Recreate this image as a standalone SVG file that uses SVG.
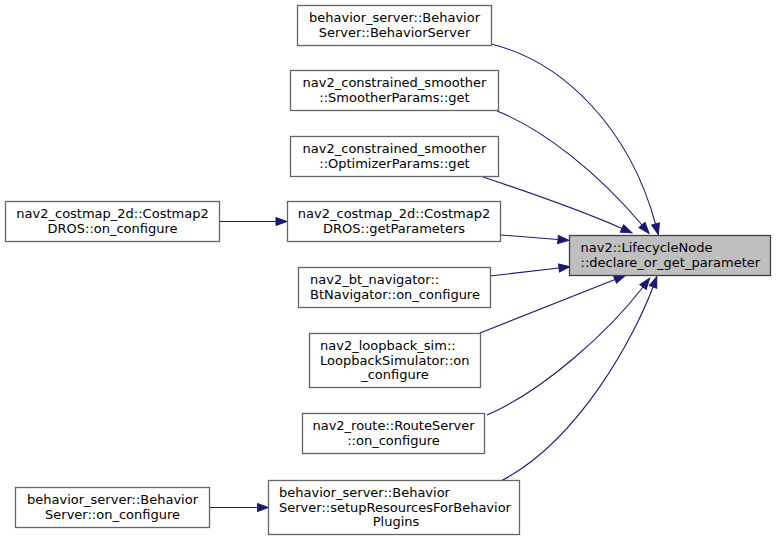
<svg xmlns="http://www.w3.org/2000/svg" width="776" height="541" viewBox="0 0 776 541">
<style>
.n rect{fill:#ffffff;stroke:#666666;stroke-width:1.3}
.t rect{fill:#bfbfbf;stroke:#404040;stroke-width:1.3}
text{font-family:"DejaVu Sans","Liberation Sans",sans-serif;font-size:13px;fill:#000000}
.c{text-anchor:middle}
.e path{fill:none;stroke:#191970;stroke-width:1.1}
</style>
<defs>
<marker id="ah" markerWidth="14" markerHeight="12" refX="0" refY="4.5" orient="auto" markerUnits="userSpaceOnUse" overflow="visible">
<path d="M0,0.5 L11,4.5 L0,8.5 z" fill="#191970" stroke="#191970" stroke-width="1"/>
</marker>
</defs>
<rect width="776" height="541" fill="#ffffff"/>
<g class="e" id="edges">
<path d="M491,44 C565,62 630,130 655.5,224" marker-end="url(#ah)"/>
<path d="M497,111 C545,130 600,175 642,225" marker-end="url(#ah)"/>
<path d="M483,177 C525,191 580,210 622,228.5" marker-end="url(#ah)"/>
<path d="M501,235 L558,239.5" marker-end="url(#ah)"/>
<path d="M220,221.5 L276,221.5" marker-end="url(#ah)"/>
<path d="M490,276 L559,268" marker-end="url(#ah)"/>
<path d="M480,333 L615,279.5" marker-end="url(#ah)"/>
<path d="M487,415 C545,390 610,330 643,287" marker-end="url(#ah)"/>
<path d="M501,481 C580,440 635,335 653,287" marker-end="url(#ah)"/>
<path d="M209.5,507.5 L257.5,507.5" marker-end="url(#ah)"/>
</g>
<g id="node_target" class="t">
<rect x="569.5" y="235.5" width="201" height="40"/>
<text x="580.5" y="252">nav2::LifecycleNode</text>
<text x="580.5" y="266.5">::declare_or_get_parameter</text>
</g>
<g id="node_bs_ctor" class="n">
<rect x="297.5" y="5.5" width="194" height="40"/>
<text class="c" x="394.5" y="22">behavior_server::Behavior</text>
<text class="c" x="394.5" y="36.5">Server::BehaviorServer</text>
</g>
<g id="node_smoother" class="n">
<rect x="290.5" y="70.5" width="208" height="40"/>
<text class="c" x="394.5" y="87">nav2_constrained_smoother</text>
<text class="c" x="394.5" y="101.5">::SmootherParams::get</text>
</g>
<g id="node_optimizer" class="n">
<rect x="290.5" y="136.5" width="208" height="40"/>
<text class="c" x="394.5" y="153">nav2_constrained_smoother</text>
<text class="c" x="394.5" y="167.5">::OptimizerParams::get</text>
</g>
<g id="node_getparams" class="n">
<rect x="287.5" y="201.5" width="213" height="40"/>
<text class="c" x="394" y="218">nav2_costmap_2d::Costmap2</text>
<text class="c" x="394" y="232.5">DROS::getParameters</text>
</g>
<g id="node_costmap_conf" class="n">
<rect x="5.5" y="201.5" width="214" height="40"/>
<text class="c" x="112.5" y="218">nav2_costmap_2d::Costmap2</text>
<text class="c" x="112.5" y="232.5">DROS::on_configure</text>
</g>
<g id="node_bt" class="n">
<rect x="298.5" y="267.5" width="192" height="40"/>
<text x="310" y="284">nav2_bt_navigator::</text>
<text x="310" y="298.5">BtNavigator::on_configure</text>
</g>
<g id="node_loopback" class="n">
<rect x="309.5" y="333.5" width="171" height="54"/>
<text x="320" y="350">nav2_loopback_sim::</text>
<text x="320" y="364.5">LoopbackSimulator::on</text>
<text class="c" x="395" y="379">_configure</text>
</g>
<g id="node_route" class="n">
<rect x="302.5" y="413.5" width="182" height="40"/>
<text class="c" x="393.5" y="430">nav2_route::RouteServer</text>
<text class="c" x="393.5" y="444.5">::on_configure</text>
</g>
<g id="node_setup" class="n">
<rect x="268.5" y="480.5" width="251" height="54"/>
<text x="279" y="497">behavior_server::Behavior</text>
<text x="279" y="511.5">Server::setupResourcesForBehavior</text>
<text class="c" x="396" y="526">Plugins</text>
</g>
<g id="node_bs_conf" class="n">
<rect x="15.5" y="487.5" width="194" height="40"/>
<text class="c" x="112.5" y="504">behavior_server::Behavior</text>
<text class="c" x="112.5" y="518.5">Server::on_configure</text>
</g>
</svg>
